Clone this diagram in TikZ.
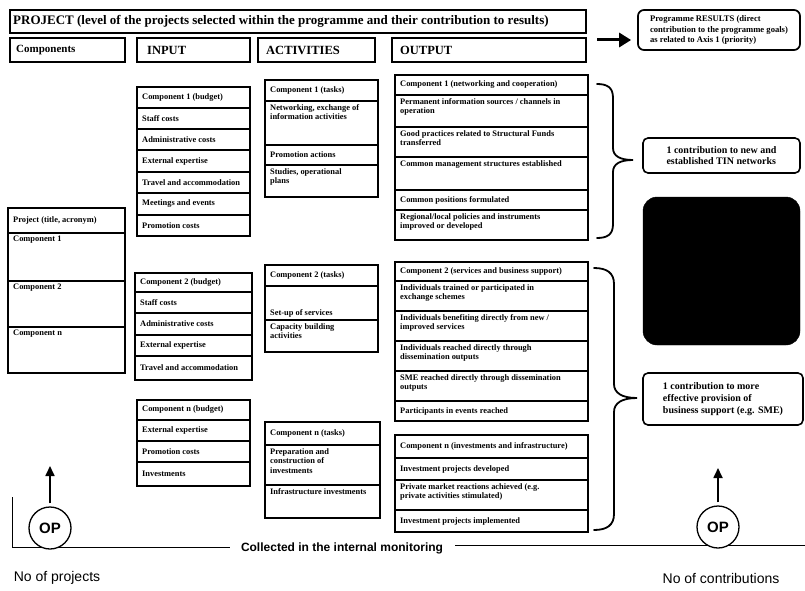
\documentclass[tikz,border=0pt]{standalone}
\usepackage{fontspec}
\setmainfont{Liberation Serif}
\setsansfont{Liberation Sans}
\usetikzlibrary{arrows.meta,calc}

\newcommand{\mkcell}[7]{% #1 mode c/t/b, #2 name, #3 x1, #4 y1, #5 x2, #6 y2, #7 text
  \pgfmathsetmacro{\mkW}{#5-#3}\pgfmathsetmacro{\mkH}{#6-#4}%
  \pgfmathsetmacro{\mkX}{(#3+#5)/2}\pgfmathsetmacro{\mkY}{(#4+#6)/2}%
  \pgfmathsetmacro{\mkTX}{#3+5}%
  \node[cellbox, minimum width=\mkW pt, minimum height=\mkH pt] (#2) at (\mkX,\mkY) {};%
  \if#1c\node[celltext, anchor=west] (#2t) at (\mkTX,\mkY) {#7};\fi
  \if#1t\pgfmathsetmacro{\mkTY}{#4+3}\node[celltext, anchor=north west] (#2t) at (\mkTX,\mkTY) {#7};\fi
  \if#1b\pgfmathsetmacro{\mkTY}{#6-3}\node[celltext, anchor=south west] (#2t) at (\mkTX,\mkTY) {#7};\fi
}

\tikzset{
  cellbox/.style={draw, line width=1.3pt, rectangle, inner sep=0pt},
  celltext/.style={inner sep=0pt, align=left, font=\fontsize{8.4}{9.6}\selectfont\bfseries},
  headtext/.style={inner sep=0pt, align=left, font=\fontsize{12.5}{13}\selectfont\bfseries},
  roundbox/.style={draw, line width=1.6pt, rounded corners=5pt, align=left, inner sep=1pt},
  opc/.style={circle, draw, line width=1.3pt, fill=white, minimum size=42pt, inner sep=0pt,
              font=\sffamily\bfseries\fontsize{15}{15}\selectfont},
  bottomtext/.style={inner sep=0pt, font=\sffamily\fontsize{14}{16}\selectfont},
  uparr/.style={line width=1.7pt, -{Triangle[length=10pt,width=9pt]}},
  bigarr/.style={line width=3pt, -{Triangle[length=12pt,width=14pt]}},
  bracest/.style={line width=1.8pt, line cap=round},
}

\begin{document}
\begin{tikzpicture}[x=1pt,y=-1pt]
\useasboundingbox (0,0) rectangle (805,591);

% title and header row
\node[cellbox, minimum width=576pt, minimum height=23pt] (title) at (298,21.5) {};
\node[headtext, anchor=west, font=\fontsize{13}{14}\selectfont\bfseries] (titlet) at (13,21.5)
  {PROJECT (level of the projects selected within the programme and their contribution to results)};
\node[cellbox, minimum width=115pt, minimum height=24pt] (hcomp) at (67.5,50) {};
\node[headtext, anchor=west, font=\fontsize{11}{12}\selectfont\bfseries] (hcompt) at (16,50) {Components};
\node[cellbox, minimum width=113pt, minimum height=24pt] (hin) at (193.5,50) {};
\node[headtext, anchor=west] (hint) at (147,50) {INPUT};
\node[cellbox, minimum width=117pt, minimum height=24pt] (hact) at (316.5,50) {};
\node[headtext, anchor=west] (hactt) at (266,50) {ACTIVITIES};
\node[cellbox, minimum width=194pt, minimum height=24pt] (hout) at (489,50) {};
\node[headtext, anchor=west] (houtt) at (400,50) {OUTPUT};

% results box and arrow
\node[roundbox, line width=1.7pt, rounded corners=6pt, minimum width=162pt, minimum height=40pt,
      font=\fontsize{8.6}{10.5}\selectfont\bfseries] (results) at (719,30)
  {Programme RESULTS (direct\\ contribution to the programme goals)\\ as related to Axis 1 (priority)};
\coordinate (arrs) at (597,40);
\draw[bigarr, shorten >=6pt] (arrs) -- (arrs -| results.west);

% projects
\mkcell{c}{p0}{8}{208}{125}{233}{Project (title, acronym)}
\mkcell{t}{p1}{8}{233}{125}{281}{Component 1}
\mkcell{t}{p2}{8}{281}{125}{327}{Component 2}
\mkcell{t}{p3}{8}{327}{125}{373}{Component n}

% input component 1
\mkcell{c}{ia0}{137}{87}{250}{108}{Component 1 (budget)}
\mkcell{c}{ia1}{137}{108}{250}{129}{Staff costs}
\mkcell{c}{ia2}{137}{129}{250}{150}{Administrative costs}
\mkcell{c}{ia3}{137}{150}{250}{172}{External expertise}
\mkcell{c}{ia4}{137}{172}{250}{193}{Travel and accommodation}
\mkcell{c}{ia5}{137}{193}{250}{215}{Meetings and events}
\mkcell{c}{ia6}{137}{215}{250}{236}{Promotion costs}

% input component 2
\mkcell{c}{ib0}{135}{273}{252}{292}{Component 2 (budget)}
\mkcell{c}{ib1}{135}{292}{252}{313}{Staff costs}
\mkcell{c}{ib2}{135}{313}{252}{335}{Administrative costs}
\mkcell{c}{ib3}{135}{335}{252}{356}{External expertise}
\mkcell{c}{ib4}{135}{356}{252}{380}{Travel and accommodation}

% input component n
\mkcell{c}{ic0}{137}{400}{250}{420}{Component n (budget)}
\mkcell{c}{ic1}{137}{420}{250}{441}{External expertise}
\mkcell{c}{ic2}{137}{441}{250}{462}{Promotion costs}
\mkcell{c}{ic3}{137}{462}{250}{486}{Investments}

% activities component 1
\mkcell{c}{aa0}{265}{80}{378}{101}{Component 1 (tasks)}
\mkcell{t}{aa1}{265}{101}{378}{145}{Networking, exchange of\\information activities}
\mkcell{c}{aa2}{265}{145}{378}{165}{Promotion actions}
\mkcell{t}{aa3}{265}{165}{378}{197}{Studies, operational\\plans}

% activities component 2
\mkcell{c}{ab0}{265}{265}{378}{286}{Component 2 (tasks)}
\mkcell{b}{ab1}{265}{286}{378}{320}{Set-up of services}
\mkcell{t}{ab2}{265}{320}{378}{352}{Capacity building\\activities}

% activities component n
\mkcell{c}{ac0}{265}{422}{380}{445}{Component n (tasks)}
\mkcell{t}{ac1}{265}{445}{380}{485}{Preparation and\\construction of\\investments}
\mkcell{t}{ac2}{265}{485}{380}{518}{Infrastructure investments}

% output component 1
\mkcell{c}{oa0}{395}{75}{588}{95}{Component 1 (networking and cooperation)}
\mkcell{t}{oa1}{395}{95}{588}{127}{Permanent information sources / channels in\\operation}
\mkcell{t}{oa2}{395}{127}{588}{157}{Good practices related to Structural Funds\\transferred}
\mkcell{t}{oa3}{395}{157}{588}{190}{Common management structures established}
\mkcell{c}{oa4}{395}{190}{588}{210}{Common positions formulated}
\mkcell{t}{oa5}{395}{210}{588}{240}{Regional/local policies and instruments\\improved or developed}

% output component 2
\mkcell{c}{ob0}{395}{262}{588}{281}{Component 2 (services and business support)}
\mkcell{t}{ob1}{395}{281}{588}{311}{Individuals trained or participated in\\exchange schemes}
\mkcell{t}{ob2}{395}{311}{588}{341}{Individuals benefiting directly from new /\\improved services}
\mkcell{t}{ob3}{395}{341}{588}{371}{Individuals reached directly through\\dissemination outputs}
\mkcell{t}{ob4}{395}{371}{588}{401}{SME reached directly through dissemination\\outputs}
\mkcell{c}{ob5}{395}{401}{588}{421}{Participants in events reached}

% output component n
\mkcell{c}{oc0}{395}{435}{588}{458}{Component n (investments and infrastructure)}
\mkcell{c}{oc1}{395}{458}{588}{480}{Investment projects developed}
\mkcell{t}{oc2}{395}{480}{588}{510}{Private market reactions achieved (e.g.\\private activities stimulated)}
\mkcell{c}{oc3}{395}{510}{588}{532}{Investment projects implemented}

% braces
\draw[bracest] (597,84) .. controls (608,84) and (613,88) .. (613,98) -- (613,148)
  .. controls (613,156) and (620,160) .. (633,160)
  .. controls (620,160) and (613,164) .. (613,172) -- (613,224)
  .. controls (613,234) and (608,238) .. (597,238);
\draw[bracest] (594,268) .. controls (607,268) and (614,273) .. (614,284) -- (614,384)
  .. controls (614,393) and (622,398) .. (637,398)
  .. controls (622,398) and (614,403) .. (614,412) -- (614,514)
  .. controls (614,525) and (607,530) .. (594,530);

% result boxes on the right
\node[roundbox, minimum width=157pt, minimum height=35pt, inner xsep=6pt,
      font=\fontsize{10}{11.5}\selectfont\bfseries] (contrib1) at (721.5,155.5)
  {1 contribution to new and\\ established TIN networks};
\node[fill=black, draw=black, rounded corners=14pt, minimum width=157pt, minimum height=148pt, inner sep=0pt] (blk) at (721.5,271) {};
\node[roundbox, minimum width=160pt, minimum height=52pt, inner xsep=6pt,
      font=\fontsize{10}{12}\selectfont\bfseries] (contrib2) at (723,399)
  {1 contribution to more\\ effective provision of\\ business support (e.g. SME)};

% bottom: monitoring line and OP circles
\coordinate (lt) at (12,497);
\coordinate (ll) at (230,547);
\draw[line width=1pt] (lt) |- (ll);
\node[bottomtext, font=\sffamily\bfseries\fontsize{12}{14}\selectfont] (coll) at (342,548) {Collected in the internal monitoring};
\coordinate (rl1) at (455,545);
\coordinate (rl2) at (805,545);
\draw[line width=1pt] (rl1) -- (rl2);
\node[opc] (op1) at (50,528) {OP};
\node[opc] (op2) at (718,527) {OP};
\coordinate (tip1) at (50,466);
\coordinate (tip2) at (718,468);
\draw[uparr] ([yshift=3pt]op1.north) -- (tip1);
\draw[uparr] ([yshift=3pt]op2.north) -- (tip2);
\node[bottomtext] (nop) at (57,578) {No of projects};
\node[bottomtext] (noc) at (721,578) {No of contributions};
\end{tikzpicture}
\end{document}
